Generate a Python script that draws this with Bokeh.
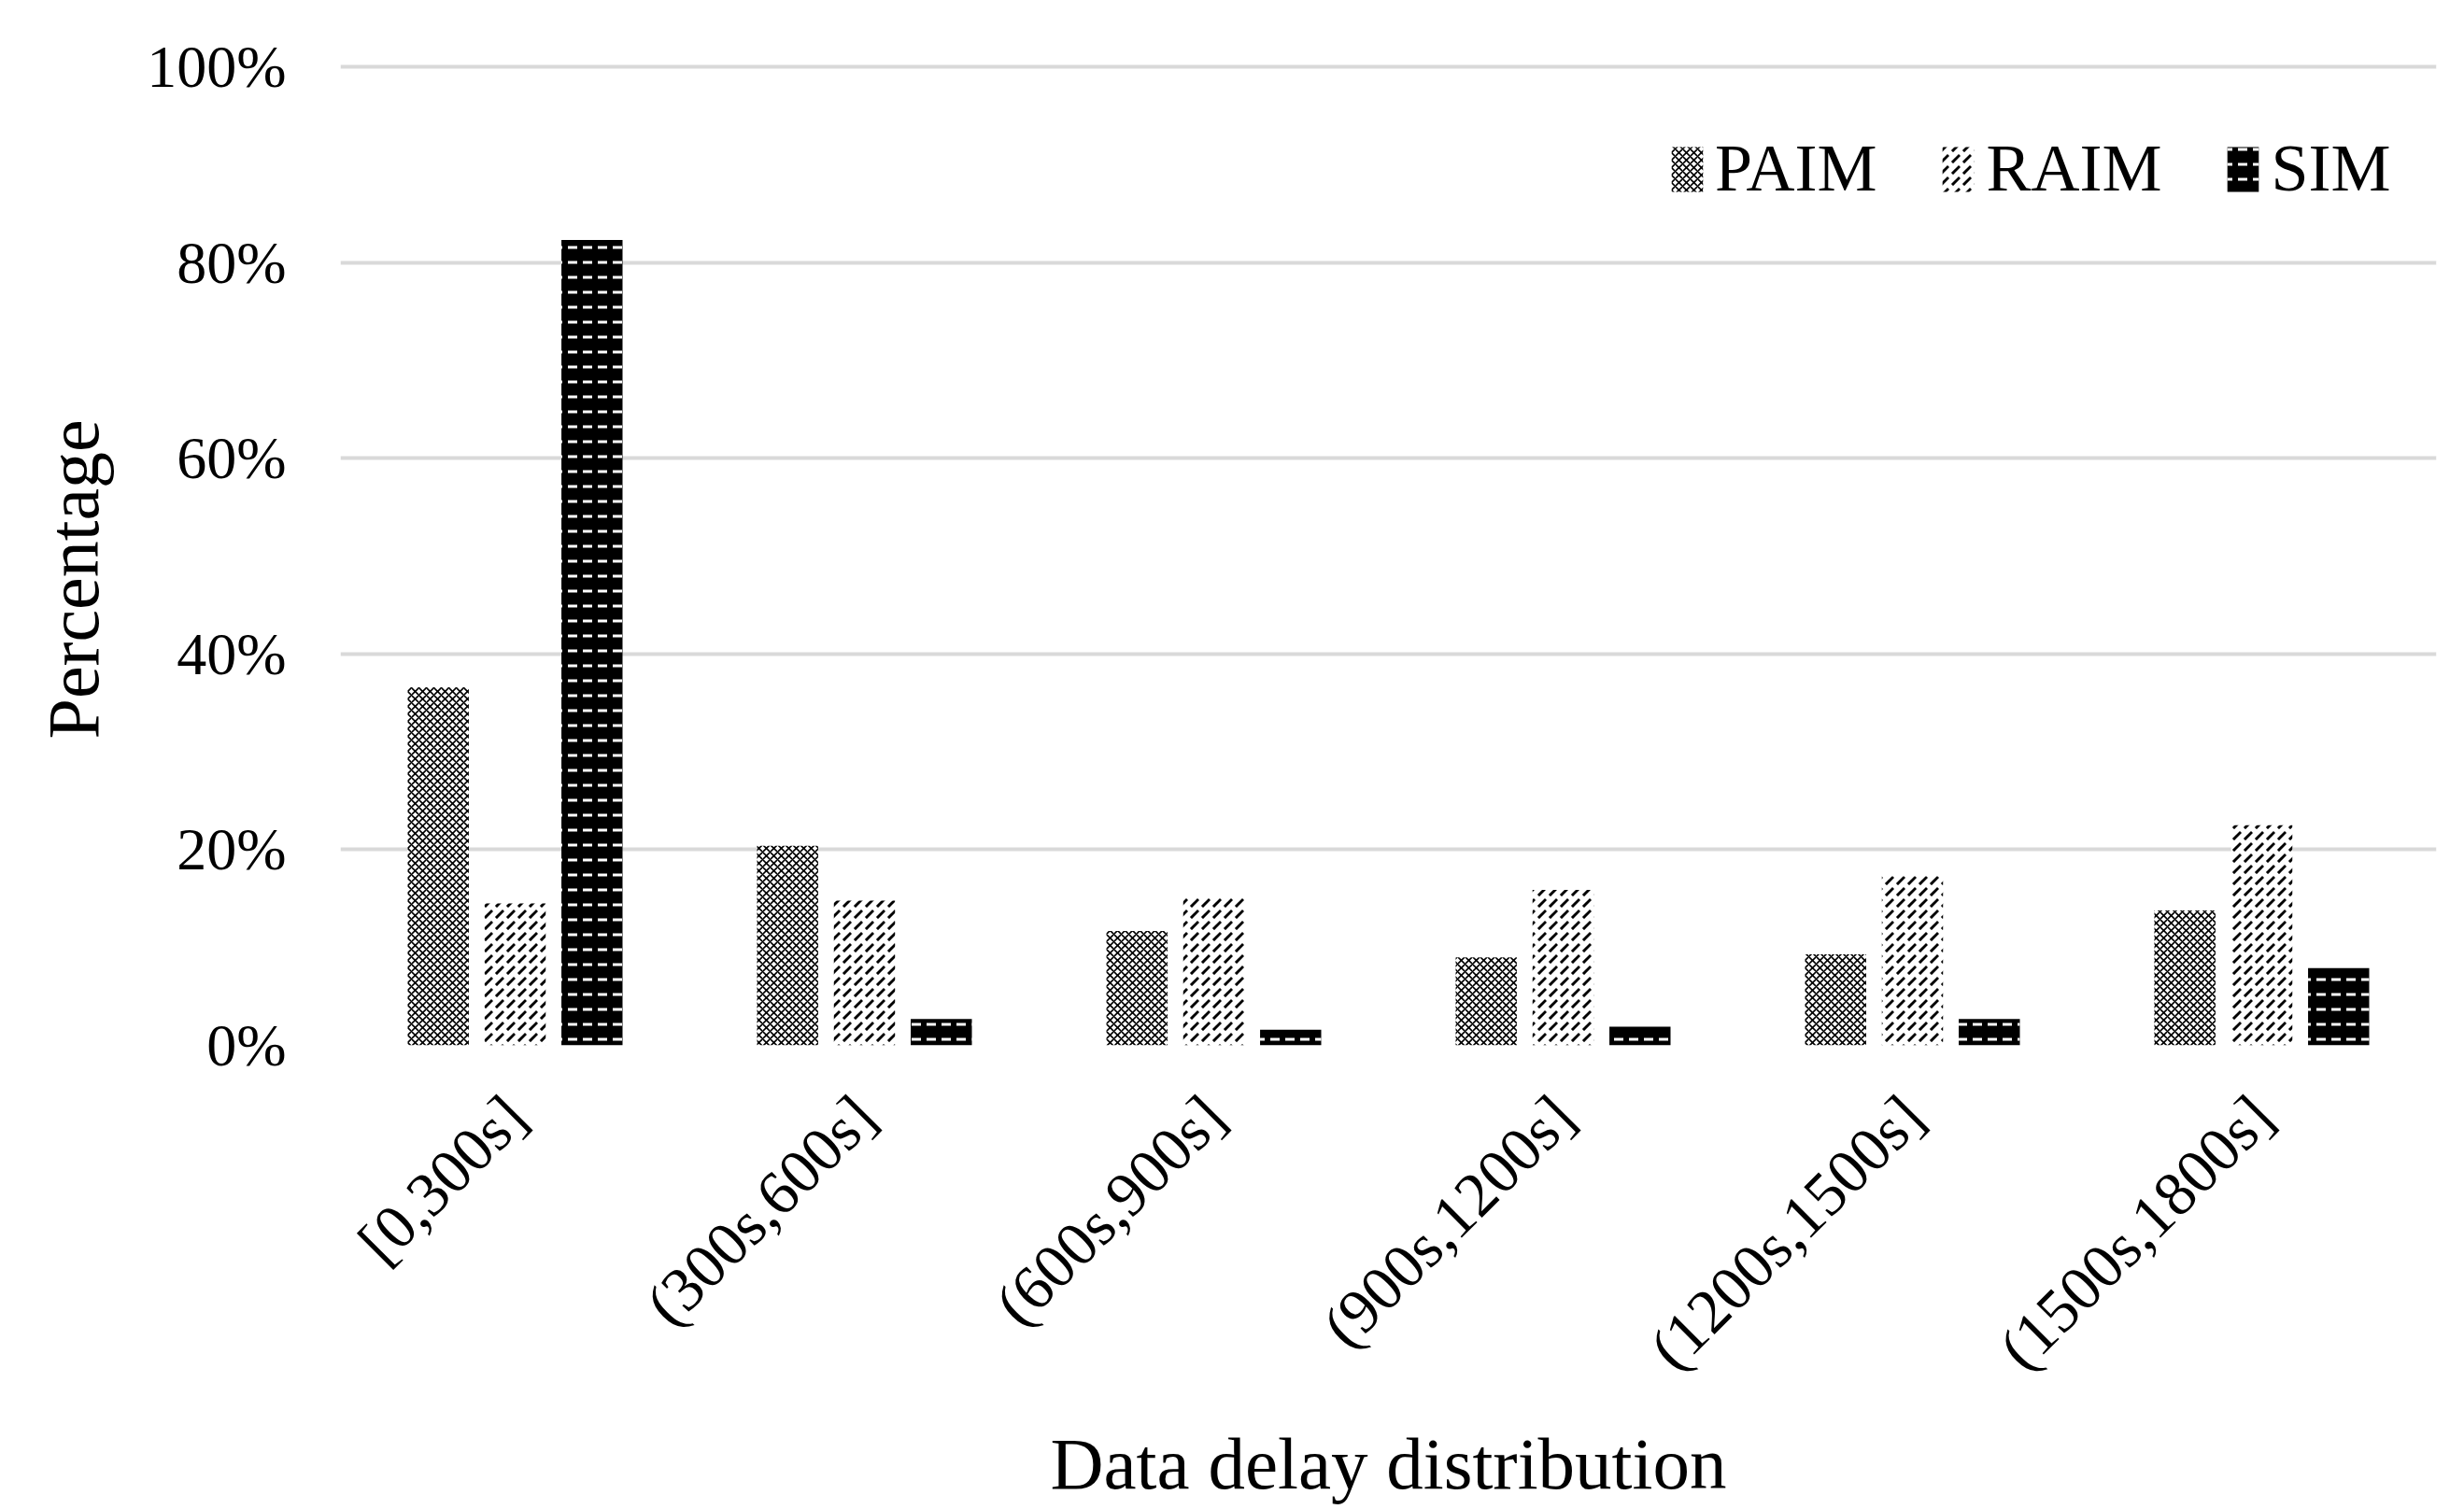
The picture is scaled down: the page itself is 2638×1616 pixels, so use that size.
from math import pi
from bokeh.plotting import figure
from bokeh.models import ColumnDataSource, FactorRange, Range1d, NumeralTickFormatter, FixedTicker, Legend, LegendItem, Title
from bokeh.transform import dodge
from bokeh.embed import file_html
from bokeh.resources import INLINE

categories = ["[0,300s]", "(300s,600s]", "(600s,900s]", "(900s,1200s]", "(1200s,1500s]", "(1500s,1800s]"]
series = ["PAIM", "RAIM", "SIM"]
paim = [0.366, 0.204, 0.117, 0.090, 0.093, 0.138]
raim = [0.145, 0.148, 0.152, 0.159, 0.173, 0.225]
sim = [0.823, 0.027, 0.016, 0.019, 0.027, 0.079]
y_ticks = [0, 0.2, 0.4, 0.6, 0.8, 1.0]
x_title = "Data delay distribution"
y_title = "Percentage"

source = ColumnDataSource(data=dict(cat=categories, PAIM=paim, RAIM=raim, SIM=sim))

FONT = "Liberation Serif"

p = figure(width=2622, height=1616, x_range=FactorRange(*categories), y_range=Range1d(0, 1.003),
           output_backend="svg", toolbar_location=None,
           min_border_left=362, min_border_right=14, min_border_top=68, min_border_bottom=497)
p.outline_line_color = None
p.background_fill_color = "white"

styles = {
    "PAIM": dict(fill_color="white", hatch_pattern="diagonal_cross", hatch_color="black", hatch_scale=8, hatch_weight=1.6),
    "RAIM": dict(fill_color="white", hatch_pattern="right_diagonal_dash", hatch_color="black", hatch_scale=12, hatch_weight=3),
    "SIM": dict(fill_color="black", hatch_pattern="horizontal_dash", hatch_color="white", hatch_scale=16, hatch_weight=3),
}
offsets = {"PAIM": -0.22, "RAIM": 0.0, "SIM": 0.22}

items = []
for s in series:
    r = p.vbar(x=dodge("cat", offsets[s], range=p.x_range), top=s, width=0.175, source=source,
               line_color=None, **styles[s])
    items.append(LegendItem(label=s, renderers=[r]))

p.xgrid.grid_line_color = None
p.ygrid.grid_line_color = "#d9d9d9"
p.ygrid.grid_line_width = 4

p.yaxis.ticker = FixedTicker(ticks=y_ticks)
p.yaxis.formatter = NumeralTickFormatter(format="0%")
for ax in (p.xaxis, p.yaxis):
    ax.axis_line_color = None
    ax.major_tick_line_color = None
    ax.minor_tick_line_color = None
    ax.major_label_text_font = FONT
    ax.major_label_text_color = "black"
    ax.axis_label_text_font = FONT
    ax.axis_label_text_font_style = "normal"
    ax.axis_label_text_color = "black"

p.yaxis.major_label_text_font_size = "64px"
p.yaxis.major_label_standoff = 52

# y-axis title as a left-side title, positioned from the bottom of the frame
p.add_layout(Title(text=y_title, align="left", offset=328, standoff=65,
                   text_font=FONT, text_font_size="78px", text_font_style="normal",
                   text_color="black"), "left")

p.xaxis.major_label_text_font_size = "67px"
p.xaxis.major_label_orientation = pi / 4
p.xaxis.major_label_standoff = 59
p.xaxis.axis_label = x_title
p.xaxis.axis_label_text_font_size = "79px"
p.xaxis.axis_label_standoff = 14

legend = Legend(items=items, orientation="horizontal", location=(1421, 897),
                label_text_font=FONT, label_text_font_size="72px", label_text_color="black",
                glyph_width=42, glyph_height=60, label_standoff=9, spacing=66,
                padding=0, margin=0, border_line_color=None, background_fill_alpha=0)
p.add_layout(legend)

open("out.html", "w").write(file_html(p, INLINE))
